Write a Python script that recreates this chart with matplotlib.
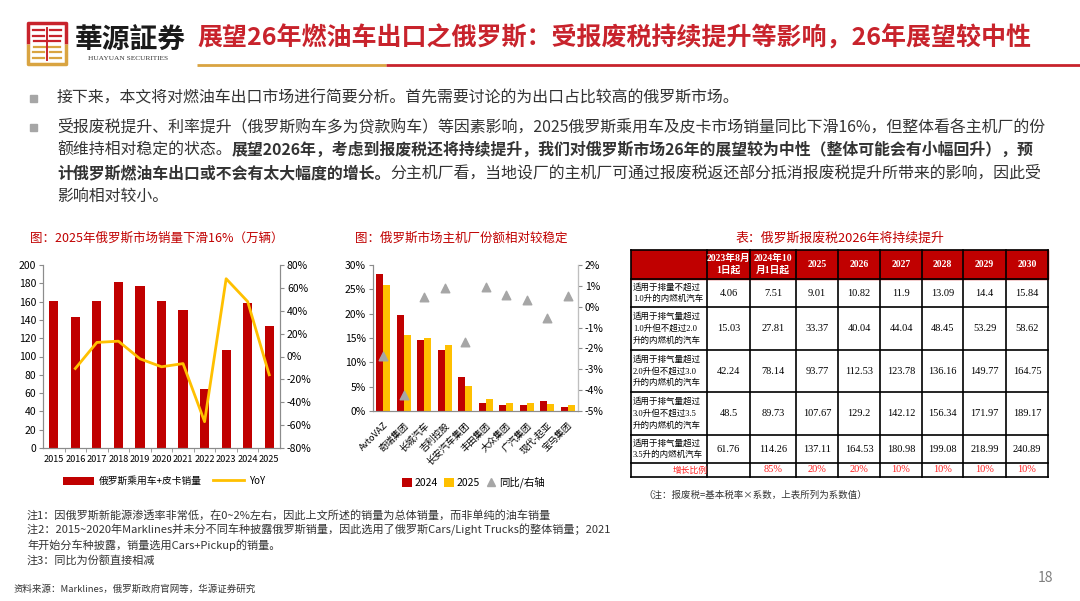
import matplotlib.pyplot as plt
from matplotlib.patches import Patch, Rectangle
from matplotlib.lines import Line2D
from matplotlib.ticker import FuncFormatter

plt.rcParams['font.family'] = ['Noto Sans CJK SC', 'DejaVu Sans']

# ---- data ----
years = ['2015', '2016', '2017', '2018', '2019', '2020', '2021', '2022', '2023', '2024', '2025']
sales = [160.5, 143, 160.5, 181, 177, 160.5, 150.5, 64.5, 107, 158.5, 133]  # 万辆
yoy_years = years[1:]
yoy = [-10.5, 12.3, 13.4, -2, -9, -6.2, -57, 68, 48, -16]  # %

makers = ['AvtoVAZ', '奇瑞集团', '长城汽车', '吉利控股', '长安汽车集团',
          '丰田集团', '大众集团', '广汽集团', '现代-起亚', '宝马集团']
share_2024 = [28.1, 19.7, 14.6, 12.6, 6.9, 1.7, 1.3, 1.3, 2.1, 0.9]
share_2025 = [25.9, 15.6, 15.0, 13.6, 5.2, 2.5, 1.7, 1.7, 1.5, 1.3]
share_chg = [-2.35, -4.25, 0.45, 0.88, -1.7, 0.93, 0.54, 0.3, -0.53, 0.53]

tax_cols = ['2023年8月\n1日起', '2024年10\n月1日起', '2025', '2026', '2027', '2028', '2029', '2030']
tax_rows = ['适用于排量不超过\n1.0升的内燃机汽车',
            '适用于排气量超过\n1.0升但不超过2.0\n升的内燃机的汽车',
            '适用于排气量超过\n2.0升但不超过3.0\n升的内燃机的汽车',
            '适用于排气量超过\n3.0升但不超过3.5\n升的内燃机的汽车',
            '适用于排气量超过\n3.5升的内燃机汽车']
tax_vals = [[4.06, 7.51, 9.01, 10.82, 11.9, 13.09, 14.4, 15.84],
            [15.03, 27.81, 33.37, 40.04, 44.04, 48.45, 53.29, 58.62],
            [42.24, 78.14, 93.77, 112.53, 123.78, 136.16, 149.77, 164.75],
            [48.5, 89.73, 107.67, 129.2, 142.12, 156.34, 171.97, 189.17],
            [61.76, 114.26, 137.11, 164.53, 180.98, 199.08, 218.99, 240.89]]
growth = [None, 85, 20, 20, 10, 10, 10, 10]

RED = '#c00000'
GOLD = '#ffc000'
GRAY = '#a6a6a6'
TITLE_RED = '#c8232c'
TXT = '#333333'
SPINE = '#8c8c8c'
SERIF = ['Liberation Serif', 'Noto Sans CJK SC']

W, H = 1080, 601
fig = plt.figure(figsize=(10.8, 6.01), dpi=100)


def px(x0, y0, x1, y1):
    return [x0 / W, 1 - y1 / H, (x1 - x0) / W, (y1 - y0) / H]


ov = fig.add_axes([0, 0, 1, 1])
ov.set_xlim(0, W)
ov.set_ylim(H, 0)
ov.axis('off')

# ---- header / logo ----
ov.plot([28, 28, 66, 66], [44, 23, 23, 44], color='#c8232c', lw=2.5, solid_capstyle='butt')
ov.plot([28, 28, 66, 66], [44, 64, 64, 44], color='#d9a441', lw=2.5, solid_capstyle='butt')
for yy in (30, 36):
    ov.plot([33, 44], [yy, yy], color='#c8232c', lw=1.6)
    ov.plot([50, 61], [yy, yy], color='#c8232c', lw=1.6)
for yy in (41, 47):
    ov.plot([34, 60], [yy, yy], color='#c8232c' if yy < 44 else '#d9a441', lw=1.6)
for yy in (52, 58):
    ov.plot([33, 44], [yy, yy], color='#d9a441', lw=1.6)
    ov.plot([50, 61], [yy, yy], color='#d9a441', lw=1.6)
ov.plot([47, 47], [28, 60], color='#c8232c', lw=1.4)
ov.text(75, 41, '華源証券', fontsize=20, weight='bold', color='#1a1a1a', va='center', ha='left')
ov.text(128, 59, 'HUAYUAN SECURITIES', fontsize=5.3, family=SERIF, color=TXT, va='center', ha='center')
ov.text(197, 38, '展望26年燃油车出口之俄罗斯：受报废税持续提升等影响，26年展望较中性',
        fontsize=18, weight='bold', color=TITLE_RED, va='center', ha='left')
ov.plot([197, 386], [65, 65], color='#d9a441', lw=2, solid_capstyle='butt')
ov.plot([386, 1080], [65, 65], color='#c8232c', lw=2, solid_capstyle='butt')

# ---- body text ----
fs = 11.45
for yy in (98, 127):
    ov.add_patch(Rectangle((30, yy - 3.5), 7, 7, color=GRAY))
ov.text(57, 98, '接下来，本文将对燃油车出口市场进行简要分析。首先需要讨论的为出口占比较高的俄罗斯市场。',
        fontsize=fs, color=TXT, va='center')
ov.text(57, 127, '受报废税提升、利率提升（俄罗斯购车多为贷款购车）等因素影响，2025俄罗斯乘用车及皮卡市场销量同比下滑16%，但整体看各主机厂的份',
        fontsize=fs, color=TXT, va='center')
t3 = ov.text(57, 150, '额维持相对稳定的状态。', fontsize=fs, color=TXT, va='center')
ov.annotate('展望2026年，考虑到报废税还将持续提升，我们对俄罗斯市场26年的展望较为中性（整体可能会有小幅回升），预',
            xy=(1, 0.5), xycoords=t3, va='center', ha='left', fontsize=fs, color=TXT, weight='bold')
t4 = ov.text(57, 173, '计俄罗斯燃油车出口或不会有太大幅度的增长。', fontsize=fs, color=TXT, va='center', weight='bold')
ov.annotate('分主机厂看，当地设厂的主机厂可通过报废税返还部分抵消报废税提升所带来的影响，因此受',
            xy=(1, 0.5), xycoords=t4, va='center', ha='left', fontsize=fs, color=TXT)
ov.text(57, 196, '影响相对较小。', fontsize=fs, color=TXT, va='center')

# ---- chart titles ----
ov.text(157, 238, '图：2025年俄罗斯市场销量下滑16%（万辆）', fontsize=9, color=RED, ha='center', va='center')
ov.text(461, 238, '图：俄罗斯市场主机厂份额相对较稳定', fontsize=9, color=RED, ha='center', va='center')
ov.text(840, 238, '表：俄罗斯报废税2026年将持续提升', fontsize=9.3, color=RED, ha='center', va='center')

# ---- chart 1: sales + YoY ----
ax1 = fig.add_axes(px(43, 265, 280, 448))
x1 = list(range(len(years)))
ax1.bar(x1, sales, width=0.43, color=RED, zorder=2)
ax1.set_xlim(-0.5, len(years) - 0.5)
ax1.set_ylim(0, 200)
ax1.set_yticks(range(0, 201, 20))
ax1.set_xticks(x1)
ax1.set_xticklabels(years)
ax1.set_xticks([i + 0.5 for i in x1[:-1]], minor=True)
ax1.tick_params(axis='x', which='major', length=0, pad=5, labelsize=6.6)
ax1.tick_params(axis='x', which='minor', length=3, color=SPINE, direction='out')
ax1.tick_params(axis='y', length=3, color=SPINE, labelsize=7.5, pad=2)
ax1b = ax1.twinx()
ax1b.plot([years.index(y) for y in yoy_years], yoy, color=GOLD, lw=2, zorder=3)
ax1b.set_ylim(-80, 80)
ax1b.set_yticks(range(-80, 81, 20))
ax1b.yaxis.set_major_formatter(FuncFormatter(lambda v, p: f'{v:.0f}%'))
ax1b.tick_params(axis='y', length=3, color=SPINE, labelsize=7.5, pad=2)
for a in (ax1, ax1b):
    a.spines['top'].set_visible(False)
    for s in ('left', 'right', 'bottom'):
        a.spines[s].set_color(SPINE)
ax1.legend(handles=[Patch(facecolor=RED, label='俄罗斯乘用车+皮卡销量'),
                    Line2D([], [], color=GOLD, lw=2, label='YoY')],
           loc='center', bbox_to_anchor=(0.51, -0.18), ncol=2, frameon=False, fontsize=7,
           handlelength=3.2, handleheight=0.9, columnspacing=1.2, handletextpad=0.5)

# ---- chart 2: maker share ----
ax2 = fig.add_axes(px(373, 265, 578, 411))
x2 = list(range(len(makers)))
ax2.bar([i - 0.17 for i in x2], share_2024, width=0.33, color=RED, zorder=2)
ax2.bar([i + 0.17 for i in x2], share_2025, width=0.33, color=GOLD, zorder=2)
ax2.set_xlim(-0.5, len(makers) - 0.5)
ax2.set_ylim(0, 30)
ax2.set_yticks(range(0, 31, 5))
ax2.yaxis.set_major_formatter(FuncFormatter(lambda v, p: f'{v:.0f}%'))
ax2.set_xticks(x2)
ax2.set_xticklabels(makers, rotation=45, ha='right', rotation_mode='anchor', fontsize=6.7)
ax2.tick_params(axis='x', length=0, pad=7)
ax2.tick_params(axis='y', length=3, color=SPINE, labelsize=7.5, pad=2)
ax2b = ax2.twinx()
ax2b.scatter(x2, share_chg, marker='^', s=38, color=GRAY, zorder=3)
ax2b.set_ylim(-5, 2)
ax2b.set_yticks(range(-5, 3))
ax2b.yaxis.set_major_formatter(FuncFormatter(lambda v, p: f'{v:.0f}%'))
ax2b.tick_params(axis='y', length=3, color=SPINE, labelsize=7.5, pad=2)
for a in (ax2, ax2b):
    a.spines['top'].set_visible(False)
    for s in ('left', 'right', 'bottom'):
        a.spines[s].set_color(SPINE)
ax2b.spines['right'].set_color('#bfbfbf')
ax2.legend(handles=[Patch(facecolor=RED, label='2024'), Patch(facecolor=GOLD, label='2025'),
                    Line2D([], [], marker='^', color=GRAY, ls='none', markersize=6, label='同比/右轴')],
           loc='center', bbox_to_anchor=(0.49, -0.49), ncol=3, frameon=False, fontsize=7.5,
           handlelength=0.9, handleheight=0.9, columnspacing=0.6, handletextpad=0.3)

# ---- table: scrap fee coefficients ----
col_edges = [631, 707, 750, 796, 838, 880, 922, 963, 1006, 1048]
row_edges = [250, 279, 307, 350, 392, 435, 463, 477]
ov.add_patch(Rectangle((col_edges[0], row_edges[0]), col_edges[-1] - col_edges[0],
                       row_edges[1] - row_edges[0], color=RED, zorder=1))
for j, c in enumerate(tax_cols):
    xc = (col_edges[j + 1] + col_edges[j + 2]) / 2
    ov.text(xc, (row_edges[0] + row_edges[1]) / 2, c, fontsize=7, family=SERIF, weight='bold',
            color='white', ha='center', va='center', linespacing=1.3, zorder=3)
for i, lab in enumerate(tax_rows):
    yc = (row_edges[i + 1] + row_edges[i + 2]) / 2
    ov.text(col_edges[0] + 2, yc, lab, fontsize=6.1, family=SERIF, color='black',
            ha='left', va='center', linespacing=1.55, zorder=3)
    for j, v in enumerate(tax_vals[i]):
        xc = (col_edges[j + 1] + col_edges[j + 2]) / 2
        ov.text(xc, yc, f'{v:g}', fontsize=7.5, family=SERIF, color='black',
                ha='center', va='center', zorder=3)
yg = (row_edges[-2] + row_edges[-1]) / 2
ov.text(690, yg, '增长比例', fontsize=6.3, color='#ff2020', ha='center', va='center', zorder=3)
for j, g in enumerate(growth):
    if g is None:
        continue
    xc = (col_edges[j + 1] + col_edges[j + 2]) / 2
    ov.text(xc, yg, f'{g}%', fontsize=7.5, family=SERIF, color='#ff2020',
            ha='center', va='center', zorder=3)
for xe in col_edges:
    ov.plot([xe, xe], [row_edges[0], row_edges[-1]], color='black', lw=1.2, zorder=2)
for ye in row_edges:
    ov.plot([col_edges[0], col_edges[-1]], [ye, ye], color='black', lw=1.2, zorder=2)
ov.text(643, 495, '（注：报废税=基本税率×系数，上表所列为系数值）', fontsize=6.8, color=TXT,
        ha='left', va='center')

# ---- notes / source ----
nfs = 8
ov.text(27, 515, '注1：因俄罗斯新能源渗透率非常低，在0~2%左右，因此上文所述的销量为总体销量，而非单纯的油车销量',
        fontsize=nfs, color=TXT, va='center')
ov.text(27, 530, '注2：2015~2020年Marklines并未分不同车种披露俄罗斯销量，因此选用了俄罗斯Cars/Light Trucks的整体销量；2021',
        fontsize=nfs, color=TXT, va='center')
ov.text(27, 545, '年开始分车种披露，销量选用Cars+Pickup的销量。', fontsize=nfs, color=TXT, va='center')
ov.text(27, 560, '注3：同比为份额直接相减', fontsize=nfs, color=TXT, va='center')
ov.text(13, 589, '资料来源：Marklines，俄罗斯政府官网等，华源证券研究', fontsize=6.8, color=TXT, va='center')
ov.text(1053, 578, '18', fontsize=10, color='#7f7f7f', ha='right', va='center')

fig.savefig('out.png', dpi=100)
